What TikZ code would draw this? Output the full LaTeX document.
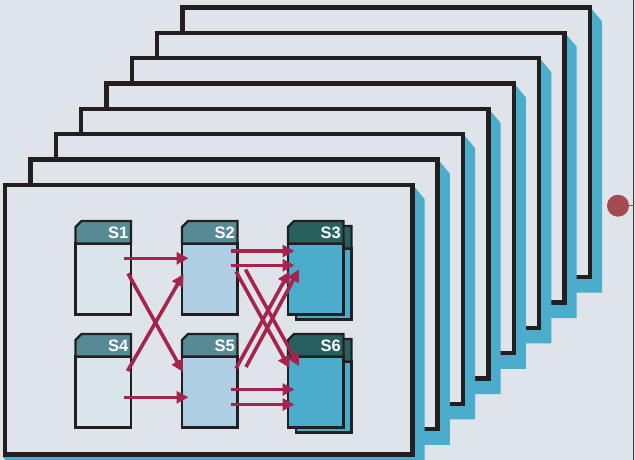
\documentclass[tikz,border=0pt]{standalone}
\usepackage{fontspec}
\setmainfont{Liberation Sans}
\usetikzlibrary{arrows.meta}
\definecolor{bg}{HTML}{DFE4EB}
\definecolor{frameblack}{HTML}{231F20}
\definecolor{shadowblue}{HTML}{4BACCB}
\definecolor{headlight}{HTML}{568B96}
\definecolor{headdark}{HTML}{26615F}
\definecolor{bodypale}{HTML}{DAE4EB}
\definecolor{bodymid}{HTML}{AECFE3}
\definecolor{bodydeep}{HTML}{4BACCB}
\definecolor{arrowred}{HTML}{A6234C}
\definecolor{dotred}{HTML}{A44A51}
\definecolor{edgegray}{HTML}{3A3A3A}
\newcommand\stagebox[5]{%
  \filldraw[boxline, fill=#5] (#1,#2+22.5) rectangle (#1+55.5,#2+93.5);
  \filldraw[boxline, fill=#4] (#1,#2+22.5) -- (#1,#2+6) -- (#1+6,#2) -- (#1+55.5,#2) -- (#1+55.5,#2+22.5) -- cycle;
  \node[lbl] (n#3) at (#1+53,#2+17.3) {#3};
}
\newcommand\backpage[3]{%
  \filldraw[boxline, fill=#3] (#1,#2+22.5) rectangle (#1+55.5,#2+93.5);
  \filldraw[boxline, fill=headdark] (#1,#2+22.5) -- (#1,#2+6) -- (#1+6,#2) -- (#1+55.5,#2) -- (#1+55.5,#2+22.5) -- cycle;
}
\begin{document}
\begin{tikzpicture}[x=1pt,y=-1pt,
  frameline/.style={draw=frameblack, line width=4.4pt, fill=bg},
  boxline/.style={draw=frameblack, line width=2.4pt, line join=miter},
  arr/.style={draw=arrowred, line width=3.6pt, -{Triangle[length=12pt,width=12pt]}},
  lbl/.style={text=white, font=\bfseries\fontsize{16.5}{16.5}\selectfont, inner sep=0pt, anchor=base east}]
\fill[bg] (0,0) rectangle (635,460);
\useasboundingbox (0,0) rectangle (635,460);
% stacked frames
\foreach \k in {7,6,...,0}{
  \pgfmathsetmacro\L{5+25.36*\k}
  \pgfmathsetmacro\T{185-25.36*\k}
  \pgfmathsetmacro\R{412.3+25.36*\k}
  \pgfmathsetmacro\B{454.5-25.36*\k}
  \fill[shadowblue] (\R+2.2,\T+2) -- (\R+12.2,\T+14) -- (\R+12.2,\B+15.7) -- (\L+7.8,\B+15.7) -- (\L-2.2,\B+2.2) -- cycle;
  \draw[frameline] (\L,\T) rectangle (\R,\B);
}
% stage boxes
\stagebox{75.5}{221}{S1}{headlight}{bodypale}
\stagebox{182}{221}{S2}{headlight}{bodymid}
\backpage{296}{226}{bodydeep}
\stagebox{288}{221}{S3}{headdark}{bodydeep}
\stagebox{75.5}{334}{S4}{headlight}{bodypale}
\stagebox{182}{334}{S5}{headlight}{bodymid}
\backpage{296}{339}{bodydeep}
\stagebox{288}{334}{S6}{headdark}{bodydeep}
% arrow endpoints
\coordinate (a1s) at (124.3,258.3); \coordinate (a1e) at (188.5,258.3);
\coordinate (a2s) at (128,273.5);   \coordinate (a2e) at (183,372);
\coordinate (a3s) at (127.5,371);   \coordinate (a3e) at (183.5,274);
\coordinate (a4s) at (124.3,397.3); \coordinate (a4e) at (188.5,397.3);
\coordinate (a5s) at (230.5,251);   \coordinate (a5e) at (294.5,251);
\coordinate (a6s) at (230.5,265.3); \coordinate (a6e) at (294.5,265.3);
\coordinate (a7s) at (236,271.5);   \coordinate (a7e) at (289.5,368);
\coordinate (a8s) at (245.5,269.5); \coordinate (a8e) at (299,366);
\coordinate (a9s) at (236,368.5);   \coordinate (a9e) at (289.5,271.5);
\coordinate (a10s) at (246,367);    \coordinate (a10e) at (299,269.5);
\coordinate (a11s) at (230.5,389.5); \coordinate (a11e) at (294.5,389.5);
\coordinate (a12s) at (230.5,404.5); \coordinate (a12e) at (294.5,404.5);
\foreach \i in {1,...,12}{ \draw[arr] (a\i s) -- (a\i e); }
% right edge and dot
\coordinate (rt) at (633.8,0); \coordinate (rb) at (633.8,460);
\draw[edgegray, line width=1.2pt] (rt) -- (rb);
\node[circle, fill=dotred, minimum size=22pt, inner sep=0pt] (dot) at (618,205.7) {};
\coordinate (dotend) at (633.8,205.7);
\draw[dotred, line width=1.5pt] (dot) -- (dotend);
\end{tikzpicture}
\end{document}
